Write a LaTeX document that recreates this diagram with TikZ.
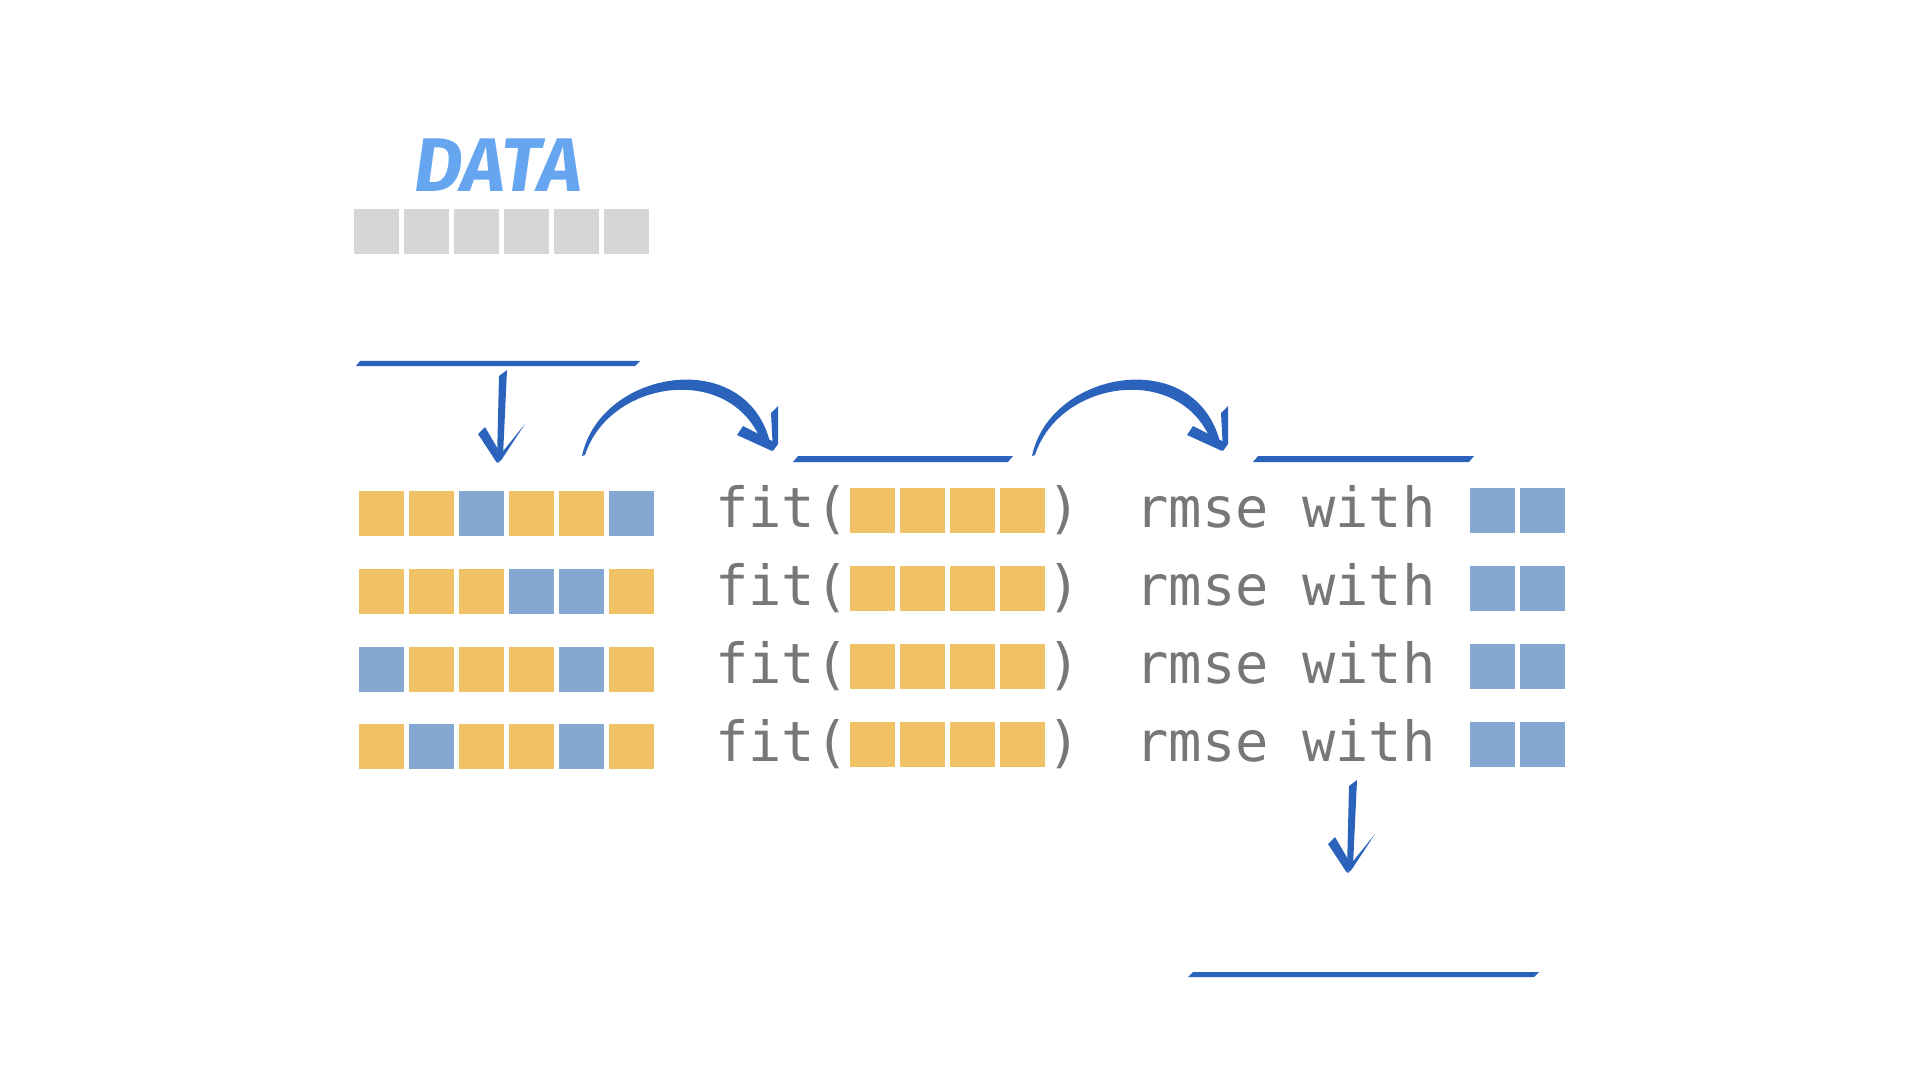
\documentclass[tikz,border=0pt]{standalone}
\usepackage{fontspec}
\usetikzlibrary{positioning}
\newfontfamily\codefont{DejaVu Sans Mono}
\newfontfamily\titlefont{Fira Sans}

\definecolor{trn}{HTML}{F0C165}
\definecolor{tst}{HTML}{84A8D2}
\definecolor{raw}{HTML}{D6D6D6}
\definecolor{ink}{HTML}{2B63BC}
\definecolor{code}{HTML}{777777}
\definecolor{title}{HTML}{66A6F0}

\tikzset{
    cell/.style={minimum size=22.5pt, inner sep=0pt, outer sep=0pt},
    codetext/.style={text=code, font=\codefont\fontsize{27.7pt}{30pt}\selectfont, inner sep=0pt},
    bar/.style={fill=ink}
}

\begin{document}
\begin{tikzpicture}[x=0.5pt, y=-0.5pt]
\useasboundingbox (0,0) rectangle (1920,1080);

% Title and raw data
\node[text=title, font=\titlefont\bfseries\itshape\fontsize{38pt}{40pt}\selectfont,
      inner sep=0pt, anchor=base, xscale=0.99] (title) at (498,192) {DATA};
\foreach \i in {0,...,5}
    \node[cell, fill=raw] (raw\i) at (376.5+50*\i, 232) {};

% Split bar and arrow down to the folds
\fill[bar] (356,366) -- (360,361) -- (640,361) -- (635,366) -- cycle;
\begin{scope}[shift={(0,0)}]
    \fill[ink] (499,376) -- (507,370) -- (503,456) -- (497,459) -- cycle;
    \fill[ink] (478,434) -- (485,427) -- (502,456) -- (497,463) -- cycle;
    \fill[ink] (525,424) -- (502,459) -- (498,463) -- (500,455) -- cycle;
\end{scope}

% Folds
\foreach \pat [count=\r from 0] in {{trn,trn,tst,trn,trn,tst},
                                    {trn,trn,trn,tst,tst,trn},
                                    {tst,trn,trn,trn,tst,trn},
                                    {trn,tst,trn,trn,tst,trn}}{
    \foreach \c [count=\i from 0] in \pat
        \node[cell, fill=\c] (fold\r-\i) at (381.5+50*\i, 513.7+77.7*\r) {};
}

% Curved arrows
\foreach \dx in {0,450}{
\begin{scope}[shift={(\dx,0)}]
    \fill[ink] (582,456) .. controls (600,370) and (745,345) .. (770,442)
        -- (763,446) .. controls (735,362) and (610,378) .. (585,455) -- cycle;
    \fill[ink] (771,413) -- (778,406) -- (778,444) -- (773,451) -- cycle;
    \fill[ink] (737,435) -- (743,426) -- (776,443) -- (772,451) -- cycle;
\end{scope}
}

% Header bars
\fill[bar] (793,462) -- (798,456) -- (1013,456) -- (1008,462) -- cycle;
\fill[bar] (1253,462) -- (1258,456) -- (1474,456) -- (1469,462) -- cycle;

% Fit and rmse rows
\foreach \r in {0,...,3}{
    \node[codetext, anchor=base east] (fit\r) at (849, 527+78*\r) {fit(};
    \foreach \i in {0,...,3}
        \node[cell, fill=trn] (train\r-\i) at (872+50*\i, 510.5+78*\r) {};
    \node[codetext, anchor=base west] (close\r) at (1047, 527+78*\r) {)};
    \node[codetext, anchor=base west] (rmse\r) at (1135, 527+78*\r) {rmse with};
    \foreach \i in {0,1}
        \node[cell, fill=tst] (test\r-\i) at (1492.5+50*\i, 510.5+78*\r) {};
}

% Arrow down to the result bar
\begin{scope}[shift={(850,410)}]
    \fill[ink] (499,376) -- (507,370) -- (503,456) -- (497,459) -- cycle;
    \fill[ink] (478,434) -- (485,427) -- (502,456) -- (497,463) -- cycle;
    \fill[ink] (525,424) -- (502,459) -- (498,463) -- (500,455) -- cycle;
\end{scope}
\fill[bar] (1188,977) -- (1193,972) -- (1539,972) -- (1534,977) -- cycle;
\end{tikzpicture}
\end{document}
